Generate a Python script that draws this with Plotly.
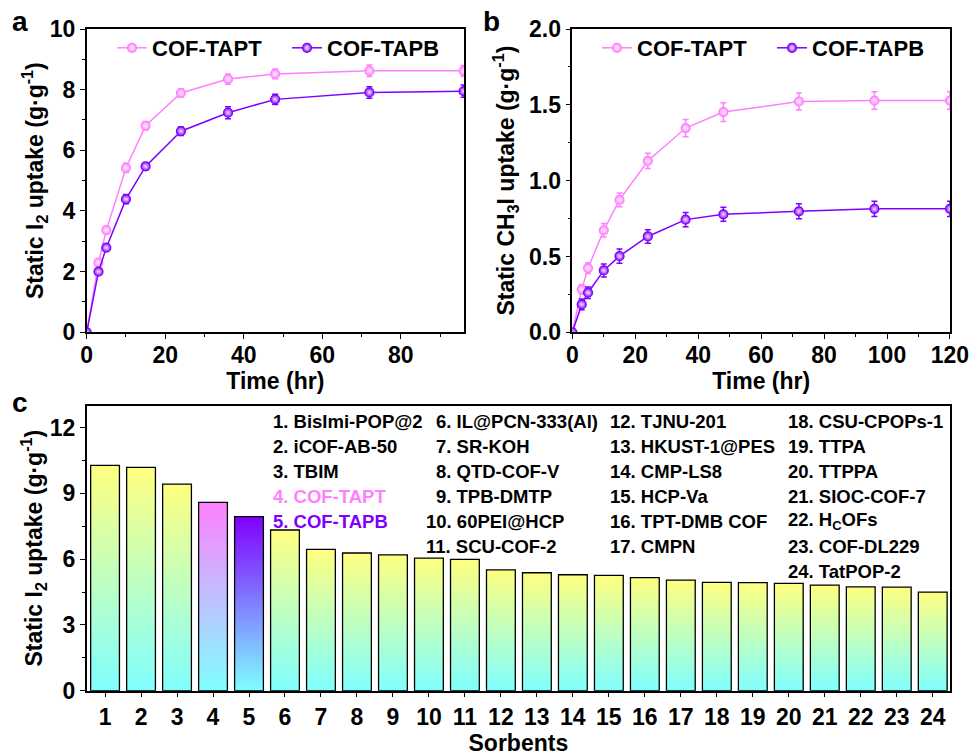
import plotly.graph_objects as go
import numpy as np

# ---------------- data ----------------
time_a = [0, 3, 5, 10, 15, 24, 36, 48, 72, 96]
i2_tapt = [0, 2.30, 3.37, 5.42, 6.81, 7.89, 8.35, 8.52, 8.62, 8.62]
i2_tapt_err = [0, 0.10, 0.12, 0.15, 0.14, 0.13, 0.17, 0.16, 0.19, 0.18]
i2_tapb = [0, 2.00, 2.79, 4.39, 5.47, 6.63, 7.24, 7.68, 7.91, 7.95]
i2_tapb_err = [0, 0.10, 0.12, 0.15, 0.12, 0.14, 0.20, 0.17, 0.19, 0.20]

time_b = [0, 3, 5, 10, 15, 24, 36, 48, 72, 96, 120]
ch3i_tapt = [0, 0.283, 0.423, 0.673, 0.873, 1.13, 1.347, 1.452, 1.522, 1.528, 1.528]
ch3i_tapt_err = [0, 0.030, 0.035, 0.045, 0.045, 0.050, 0.057, 0.062, 0.056, 0.058, 0.058]
ch3i_tapb = [0, 0.184, 0.261, 0.408, 0.502, 0.632, 0.743, 0.778, 0.798, 0.814, 0.814]
ch3i_tapb_err = [0, 0.035, 0.038, 0.043, 0.047, 0.045, 0.047, 0.046, 0.050, 0.050, 0.050]

sorbent_ids = list(range(1, 25))
sorbent_uptake = [10.28, 10.19, 9.42, 8.59, 7.94, 7.33, 6.45, 6.28, 6.20, 6.05, 5.99,
                  5.51, 5.38, 5.29, 5.26, 5.16, 5.04, 4.94, 4.93, 4.90, 4.82, 4.74, 4.72, 4.50]
sorbent_names = ["BisImi-POP@2", "iCOF-AB-50", "TBIM", "COF-TAPT", "COF-TAPB",
                 "IL@PCN-333(Al)", "SR-KOH", "QTD-COF-V", "TPB-DMTP", "60PEI@HCP",
                 "SCU-COF-2", "TJNU-201", "HKUST-1@PES", "CMP-LS8", "HCP-Va",
                 "TPT-DMB COF", "CMPN", "CSU-CPOPs-1", "TTPA", "TTPPA",
                 "SIOC-COF-7", "H<sub>C</sub>OFs", "COF-DL229", "TatPOP-2"]

PINK = "#FF80FF"
PURPLE = "#8000FF"
FONT = "Liberation Sans, Arial, sans-serif"
W, H = 969, 756

def px(x):
    return x / W

def py(y):
    return 1 - y / H

fig = go.Figure()

def add_series(x, y, err, color, name, xa, ya, legend):
    fig.add_trace(go.Scatter(
        x=x, y=y, name=name, mode="lines+markers",
        xaxis=xa, yaxis=ya, legend=legend,
        line=dict(color=color, width=1.5),
        marker=dict(symbol="circle", size=9, color=color,
                    gradient=dict(type="radial", color="rgba(255,255,255,0.85)"),
                    line=dict(color=color, width=1.2)),
        error_y=dict(type="data", array=err, visible=True, color=color,
                     thickness=1.5, width=3),
    ))

add_series(time_a, i2_tapt, i2_tapt_err, PINK, "COF-TAPT", "x", "y", "legend")
add_series(time_a, i2_tapb, i2_tapb_err, PURPLE, "COF-TAPB", "x", "y", "legend")
add_series(time_b, ch3i_tapt, ch3i_tapt_err, PINK, "COF-TAPT", "x2", "y2", "legend2")
add_series(time_b, ch3i_tapb, ch3i_tapb_err, PURPLE, "COF-TAPB", "x2", "y2", "legend2")

# ---------------- gradient bars (panel c) ----------------
bottom_rgb = np.array([128, 255, 255])
top_default = np.array([255, 255, 128])
top_special = {4: np.array([255, 128, 255]), 5: np.array([128, 0, 255])}
N = 48
h = np.array(sorbent_uptake)
for k in range(N):
    frac_top = (N - k) / N
    frac_col = (N - k - 0.5) / N
    cols = []
    for sid in sorbent_ids:
        top = top_special.get(sid, top_default)
        c = bottom_rgb + (top - bottom_rgb) * frac_col
        cols.append("rgb(%d,%d,%d)" % tuple(np.round(c)))
    fig.add_trace(go.Bar(
        x=sorbent_ids, y=h * frac_top, xaxis="x3", yaxis="y3",
        marker=dict(color=cols, line=dict(width=0)),
        width=0.8, showlegend=False, hoverinfo="skip",
    ))
fig.add_trace(go.Bar(
    x=sorbent_ids, y=sorbent_uptake, xaxis="x3", yaxis="y3",
    marker=dict(color="rgba(0,0,0,0)", line=dict(color="black", width=1.3)),
    width=0.8, showlegend=False,
))

# ---------------- axes ----------------
tickfont = dict(family=FONT, size=23, color="black", weight="bold")
titlefont = dict(family=FONT, size=23, color="black", weight="bold")

def axis_common(**kw):
    d = dict(showline=True, linecolor="black", linewidth=1.5, mirror=True,
             ticks="outside", ticklen=5, tickwidth=1.3, tickcolor="black",
             showgrid=False, zeroline=False, tickfont=tickfont,
             title_font=titlefont, automargin=False, ticklabeloverflow="allow")
    d.update(kw)
    return d

minor_x = lambda dt: dict(dtick=dt, ticks="outside", ticklen=3, tickwidth=1, tickcolor="black", showgrid=False)

fig.update_layout(
    width=W, height=H, margin=dict(l=0, r=0, t=0, b=0),
    paper_bgcolor="white", plot_bgcolor="white",
    font=dict(family=FONT, color="black", weight="bold"),
    barmode="overlay", bargap=0.2,
    xaxis=axis_common(domain=[px(86.7), px(464)], range=[0, 96.1], dtick=20, tick0=0,
                      minor=minor_x(10), anchor="y", ticklabelstandoff=-4,
                      title=dict(text="Time (hr)", standoff=2)),
    yaxis=axis_common(domain=[py(332.3), py(29)], range=[0, 10], dtick=2,
                      minor=minor_x(1), anchor="x",
                      title=dict(text="Static I<sub>2</sub> uptake (g·g<sup>-1</sup>)", standoff=0)),
    xaxis2=axis_common(domain=[px(572.3), px(950)], range=[0, 120.01], dtick=20, tick0=0,
                       minor=minor_x(10), anchor="y2", ticklabelstandoff=-4,
                       title=dict(text="Time (hr)", standoff=2)),
    yaxis2=axis_common(domain=[py(332.3), py(29)], range=[0, 2.0], dtick=0.5,
                       tickformat=".1f", minor=minor_x(0.25), anchor="x2",
                       title=dict(text="Static CH<sub>3</sub>I uptake (g·g<sup>-1</sup>)", standoff=8)),
    xaxis3=axis_common(domain=[px(86.7), px(950)], range=[0.49, 24.48],
                       tickmode="array", tickvals=sorbent_ids, anchor="y3",
                       title=dict(text="Sorbents", standoff=8)),
    yaxis3=axis_common(domain=[py(690.7), py(405.7)], range=[0, 13.0], dtick=3,
                       minor=minor_x(1.5), anchor="x3",
                       title=dict(text="Static I<sub>2</sub> uptake (g·g<sup>-1</sup>)", standoff=0)),
    legend=dict(orientation="h", x=px(112), y=py(48), xanchor="left", yanchor="middle",
                bgcolor="rgba(0,0,0,0)", font=dict(family=FONT, size=22, color="black", weight="bold"),
                entrywidth=130, entrywidthmode="pixels", itemclick=False),
    legend2=dict(orientation="h", x=px(597), y=py(48), xanchor="left", yanchor="middle",
                 bgcolor="rgba(0,0,0,0)", font=dict(family=FONT, size=22, color="black", weight="bold"),
                 entrywidth=130, entrywidthmode="pixels", itemclick=False),
)

annotations = []
for label, x, y in [("a", 20, 21), ("b", 491, 21), ("c", 20, 403)]:
    annotations.append(dict(text=label, x=px(x), y=py(y), xref="paper", yref="paper",
                            showarrow=False, xanchor="center", yanchor="middle",
                            font=dict(family=FONT, size=28, color="black", weight="bold")))

# legend text columns in panel c
columns = [(range(1, 6), 270.5), (range(6, 12), 434), (range(12, 18), 608), (range(18, 25), 786)]
row0, dy = 421.7, 24.9
for ids, xstart in columns:
    for r, sid in enumerate(ids):
        color = "black"
        if sid == 4:
            color = PINK
        elif sid == 5:
            color = PURPLE
        x0 = xstart
        if sid in (10, 11):
            x0 = xstart - 10
        annotations.append(dict(text="%d. %s" % (sid, sorbent_names[sid - 1]),
                                x=px(x0), y=py(row0 + r * dy), xref="paper", yref="paper",
                                showarrow=False, xanchor="left", yanchor="middle",
                                font=dict(family=FONT, size=18.5, color=color, weight="bold")))
fig.update_layout(annotations=annotations)

fig.write_html("out.html", config={"displayModeBar": False},
               post_script="document.body.style.margin='0px';document.body.style.overflow='hidden';")
